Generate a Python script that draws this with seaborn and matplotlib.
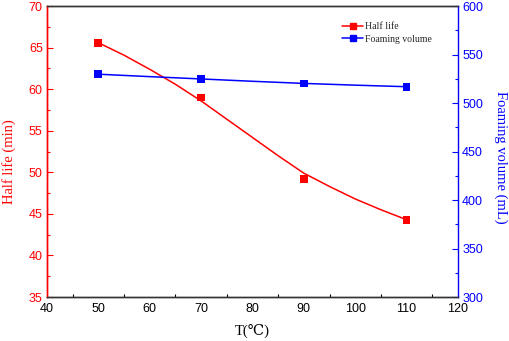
import pandas as pd
import matplotlib
matplotlib.use("Agg")
import matplotlib.pyplot as plt
from matplotlib.lines import Line2D
from matplotlib.ticker import MultipleLocator
import seaborn as sns

# olculen noktalar
sicaklik = [50, 70, 90, 110]
yari_omur = [65.6, 59.0, 49.2, 44.3]
kopuk_hacmi = [529.8, 524.9, 520.3, 516.9]

# fit egrileri
fit_sicaklik = [50, 55, 60, 65, 70, 75, 80, 85, 90, 95, 100, 105, 110]
fit_yari_omur = [65.6, 64.1, 62.4, 60.6, 58.6, 56.4, 54.2, 52.0, 49.9, 48.3, 46.8, 45.5, 44.3]
fit_sicaklik_b = [50, 60, 70, 80, 90, 100, 110]
fit_kopuk = [529.8, 527.3, 524.9, 522.5, 520.3, 518.5, 516.9]

kirmizi = "#ff0000"
mavi = "#0000ff"
serif = ["Liberation Serif", "DejaVu Serif"]

sns.set_theme(style="white")
plt.rcParams["font.family"] = ["Liberation Sans", "DejaVu Sans"]
plt.rcParams["xtick.direction"] = "in"
plt.rcParams["ytick.direction"] = "in"

df_nokta = pd.DataFrame({"T": sicaklik, "hl": yari_omur, "fv": kopuk_hacmi})
df_fit = pd.DataFrame({"T": fit_sicaklik, "hl": fit_yari_omur})
df_fit_b = pd.DataFrame({"T": fit_sicaklik_b, "fv": fit_kopuk})

fig, ax1 = plt.subplots(figsize=(5.1, 3.41), dpi=100)
fig.subplots_adjust(left=0.092, right=0.898, top=0.982, bottom=0.129)
ax2 = ax1.twinx()

# yari omur
sns.lineplot(data=df_fit, x="T", y="hl", ax=ax1, color=kirmizi, linewidth=1.1)
sns.scatterplot(data=df_nokta, x="T", y="hl", ax=ax1, color=kirmizi, marker="s",
                s=30, edgecolor="none", zorder=3)

# kopuk hacmi
sns.lineplot(data=df_fit_b, x="T", y="fv", ax=ax2, color=mavi, linewidth=1.1)
sns.scatterplot(data=df_nokta, x="T", y="fv", ax=ax2, color=mavi, marker="s",
                s=30, edgecolor="none", zorder=3)

ax1.set_xlim(40, 120)
ax1.set_ylim(35, 70)
ax2.set_ylim(300, 600)
ax1.xaxis.set_major_locator(MultipleLocator(10))
ax1.xaxis.set_minor_locator(MultipleLocator(5))
ax1.yaxis.set_major_locator(MultipleLocator(5))
ax1.yaxis.set_minor_locator(MultipleLocator(2.5))
ax2.yaxis.set_major_locator(MultipleLocator(50))
ax2.yaxis.set_minor_locator(MultipleLocator(25))

ax1.tick_params(axis="x", which="major", length=4, width=0.8, colors="black", labelsize=9, pad=4)
ax1.tick_params(axis="x", which="minor", length=2, width=0.8, colors="black", bottom=True)
ax1.tick_params(axis="y", which="major", length=4, width=0.8, colors=kirmizi, labelsize=9, pad=3)
ax1.tick_params(axis="y", which="minor", length=2, width=0.8, colors=kirmizi, left=True)
ax2.tick_params(axis="y", which="major", length=4, width=0.8, colors=mavi, labelsize=9, pad=3)
ax2.tick_params(axis="y", which="minor", length=2, width=0.8, colors=mavi, right=True)

for ax in (ax1, ax2):
    for sp in ax.spines.values():
        sp.set_linewidth(1.0)
        sp.set_color("#333333")
ax2.spines["left"].set_color(kirmizi)
ax2.spines["right"].set_color(mavi)
ax1.spines["left"].set_color(kirmizi)
ax1.spines["right"].set_visible(False)

ax1.set_xlabel("T(\u2103)", family=serif, fontsize=10.5, color="black", labelpad=7)
ax1.set_ylabel("Half life (min)", family=serif, fontsize=10.5, color=kirmizi)
ax1.yaxis.set_label_coords(-0.075, 0.465)
ax2.set_ylabel("Foaming volume (mL)", family=serif, fontsize=10.5, color=mavi,
               rotation=270)
ax2.yaxis.set_label_coords(1.121, 0.479)

# lejant
tutamaklar = [
    Line2D([], [], color=kirmizi, marker="s", markersize=5, linewidth=1.1),
    Line2D([], [], color=mavi, marker="s", markersize=5, linewidth=1.1),
]
ax1.legend(tutamaklar, ["Half life", "Foaming volume"], loc="upper left",
           bbox_to_anchor=(0.718, 0.945), frameon=False, borderpad=0, borderaxespad=0,
           handlelength=2.2, handletextpad=0.2, labelspacing=0.35,
           prop={"family": serif, "size": 7})

fig.savefig("out.png", dpi=100)
